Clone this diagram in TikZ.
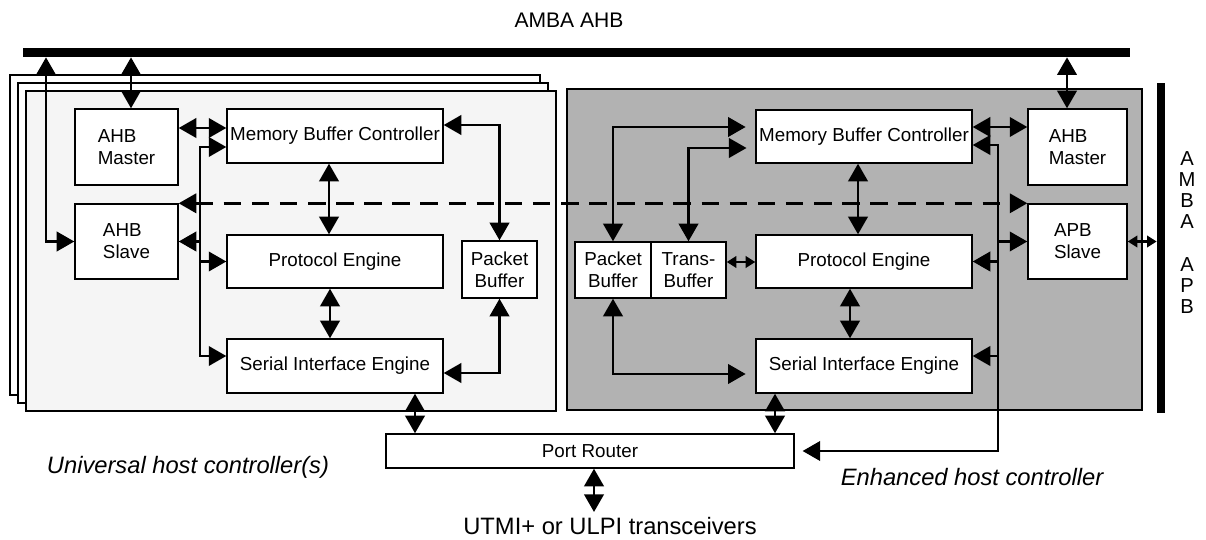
\documentclass[tikz,border=0pt]{standalone}
\usepackage{fontspec}
\setmainfont{Liberation Sans}
\usetikzlibrary{arrows.meta}

\begin{document}
\begin{tikzpicture}[x=.02cm,y=-.02cm,>={Triangle[length=10pt,width=11pt]},
  blk/.style={draw,line width=.8pt,fill=white,inner sep=0pt,align=center,
    font=\fontsize{10.7}{12.5}\selectfont},
  busbar/.style={fill=black,inner sep=0pt},
  hcbox/.style={draw,line width=1.6pt},
  dlink/.style={line width=1.6pt,<->},
  tapline/.style={line width=1.6pt,->},
  slink/.style={line width=1.6pt,{Triangle[length=5.5pt,width=6.5pt]}-{Triangle[length=5.5pt,width=6.5pt]}},
  lbl/.style={font=\fontsize{13.5}{16}\selectfont\itshape}]
  \useasboundingbox (0,0) rectangle (1206,540);

  % buses
  \node[busbar,minimum width=22.14cm,minimum height=.18cm] (ahb) at (576.5,52.5) {};
  \node[busbar,minimum width=.16cm,minimum height=6.6cm] (apb) at (1161,248) {};
  \node[font=\fontsize{12}{14}\selectfont] (ahblab) at (569,20.5) {AMBA AHB};
  \node[font=\fontsize{11.5}{12}\selectfont,align=center] (apblab) at (1187,232.5)
    {A\\M\\B\\A\\[12pt]A\\P\\B};

  % host controllers
  \foreach \o/\c in {16/white,8/white,0/black!4}
    \draw[hcbox,fill=\c] (26-\o,91-\o) rectangle (556-\o,411-\o);
  \draw[hcbox,fill=black!30] (567,89) rectangle (1142,410);

  % universal host controller
  \node[blk,align=left,minimum width=2.06cm,minimum height=1.52cm] (ahbmL) at (126.5,147) {AHB\\Master};
  \node[blk,align=left,minimum width=2.06cm,minimum height=1.5cm] (ahbsL) at (126.5,241.5) {AHB\\Slave};
  \node[blk,minimum width=4.32cm,minimum height=1.08cm] (mbcL) at (335,136) {Memory Buffer Controller};
  \node[blk,minimum width=4.32cm,minimum height=1.06cm] (peL) at (335,261.5) {Protocol Engine};
  \node[blk,minimum width=4.32cm,minimum height=1.08cm] (sieL) at (335,366) {Serial Interface Engine};
  \node[blk,minimum width=1.5cm,minimum height=1.14cm] (pbL) at (499.5,269.5) {Packet\\Buffer};

  % enhanced host controller
  \node[blk,minimum width=4.32cm,minimum height=1.06cm] (mbcR) at (864,136.5) {Memory Buffer Controller};
  \node[blk,minimum width=4.32cm,minimum height=1.06cm] (peR) at (864,261.5) {Protocol Engine};
  \node[blk,minimum width=4.32cm,minimum height=1.08cm] (sieR) at (864,366) {Serial Interface Engine};
  \node[blk,minimum width=1.52cm,minimum height=1.12cm] (pbR) at (613,270) {Packet\\Buffer};
  \node[blk,minimum width=1.5cm,minimum height=1.12cm] (tbR) at (688.5,270) {Trans-\\Buffer};
  \node[blk,align=left,minimum width=1.98cm,minimum height=1.52cm] (ahbmR) at (1077.5,147) {AHB\\Master};
  \node[blk,align=left,minimum width=1.98cm,minimum height=1.5cm] (apbs) at (1077.5,241.5) {APB\\Slave};

  \node[blk,minimum width=8.16cm,minimum height=.68cm] (pr) at (590,451) {Port Router};
  \node[lbl] (uhc) at (188,467) {Universal host controller(s)};
  \node[lbl] (ehc) at (972,477) {Enhanced host controller};
  \node[font=\fontsize{13.5}{16}\selectfont,anchor=north,inner sep=3pt] (utmi) at (610,512)
    {UTMI+ or ULPI transceivers};

  % left connections
  \draw[dlink] (ahb.south -| 131,0) -- (ahbmL.north -| 131,0);
  \draw[dlink] (ahb.south -| 46,0) |- (ahbsL.west);
  \draw[dlink] (ahbmL.east |- 0,128) -- (mbcL.west |- 0,128);
  \draw[dlink] (mbcL.west |- 0,147) -| (200,300) |- (sieL.west |- 0,356);
  \draw[tapline] (peL.west -| 200,0) -- (peL.west);
  \draw[tapline] (ahbsL.east -| 200,0) -- (ahbsL.east);
  \draw[dlink] (mbcL.south -| 329,0) -- (peL.north -| 329,0);
  \draw[dlink] (peL.south -| 330,0) -- (sieL.north -| 330,0);
  \draw[dlink] (mbcL.east |- 0,125) -| (pbL.north);
  \draw[dlink] (pbL.south) |- (sieL.east |- 0,373);
  \draw[dlink] (sieL.south -| 415,0) -- (pr.north -| 415,0);

  % right connections
  \draw[dlink] (ahb.south -| 1067,0) -- (ahbmR.north -| 1067,0);
  \draw[dlink] (mbcR.east |- 0,127) -- (ahbmR.west |- 0,127);
  \draw[dlink,shorten >=4.5pt] (mbcR.east |- 0,145) -| (998,420) |- (pr.east);
  \draw[tapline] (apbs.west -| 998,0) -- (apbs.west);
  \draw[tapline] (peR.east -| 998,0) -- (peR.east);
  \draw[tapline] (998,356) -- (sieR.east |- 0,356);
  \draw[dlink] (mbcR.south -| 858,0) -- (peR.north -| 858,0);
  \draw[dlink] (peR.south -| 850,0) -- (sieR.north -| 850,0);
  \draw[dlink,shorten >=5.5pt] (pbR.north) |- (mbcR.west |- 0,127);
  \draw[dlink,shorten >=5pt] (tbR.north) |- (mbcR.west |- 0,148);
  \draw[slink] (tbR.east |- 0,262) -- (peR.west |- 0,262);
  \draw[dlink,shorten >=5.5pt] (pbR.south) |- (sieR.west |- 0,374);
  \draw[dlink] (sieR.south -| 775,0) -- (pr.north -| 775,0);
  \draw[slink] (apbs.east) -- (apbs.east -| apb.west);

  % dashed register path
  \draw[dlink,dash pattern=on 10pt off 6pt] (ahbsL.north east) -- (apbs.north west);
  \draw[dlink] (pr.south -| 594,0) -- (utmi.north -| 594,0);
\end{tikzpicture}
\end{document}
